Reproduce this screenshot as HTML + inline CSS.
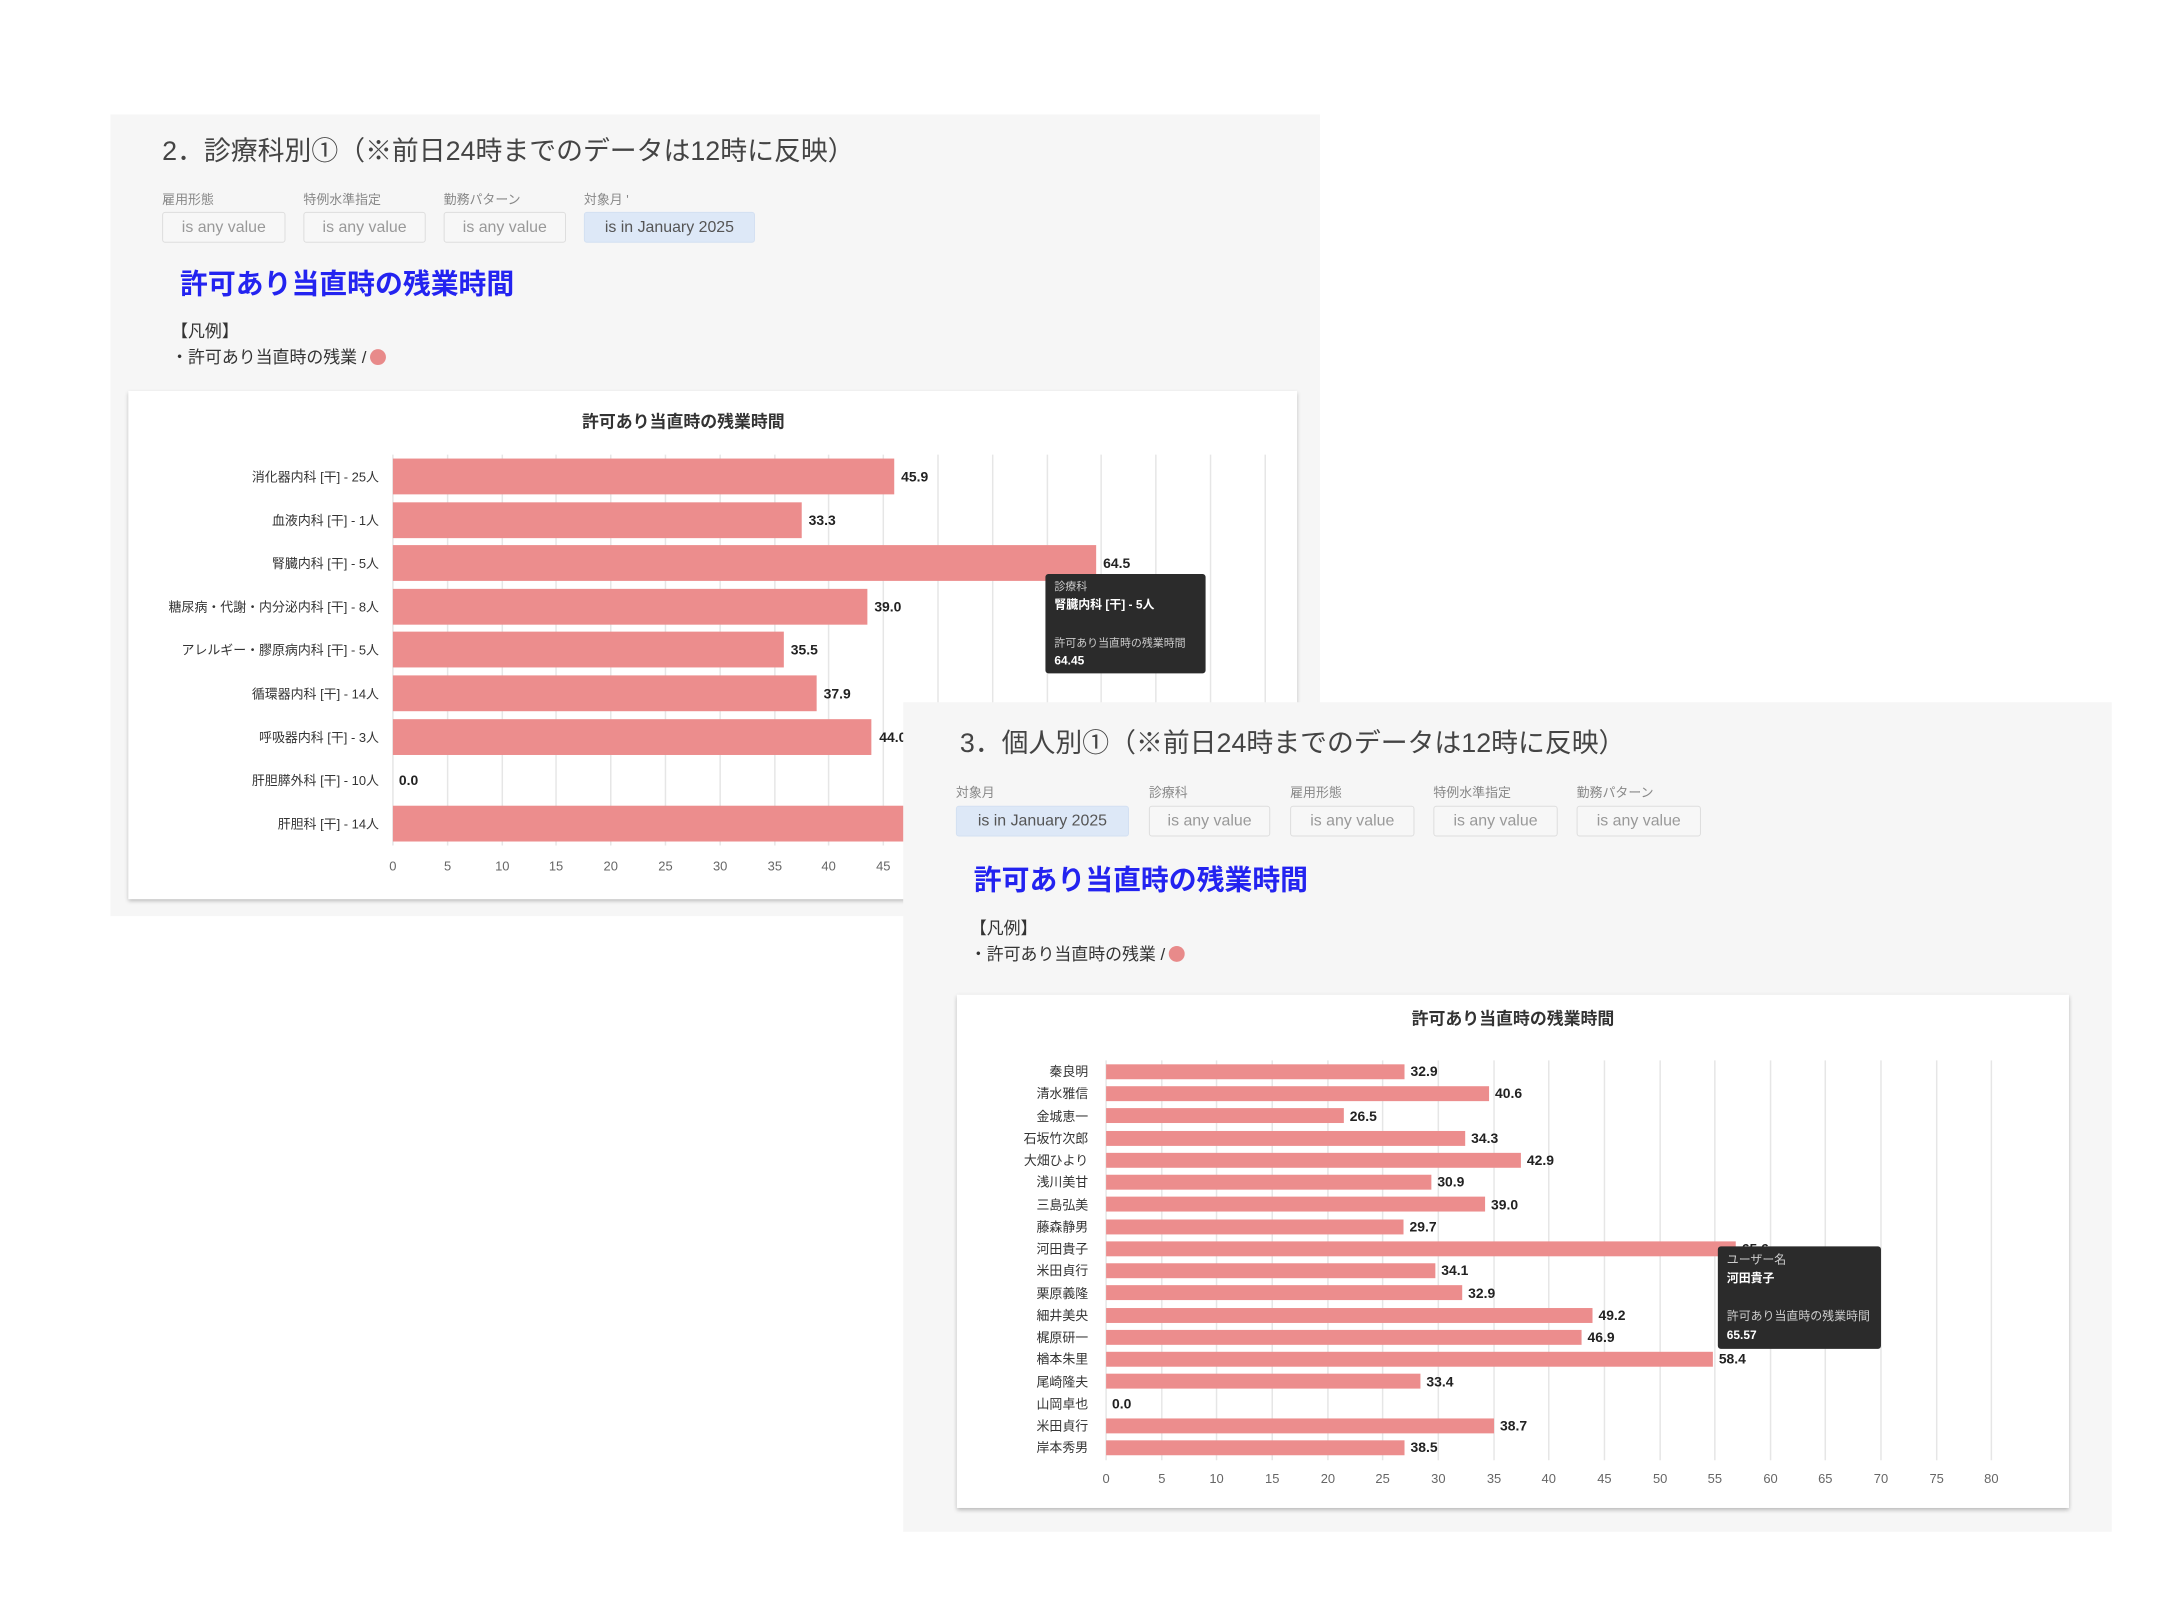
<!DOCTYPE html>
<html><head><meta charset="utf-8"><style>
body{margin:0;width:2160px;height:1620px;background:#fff;position:relative;overflow:hidden;font-family:"Liberation Sans","Noto Sans CJK JP",sans-serif;}
#w{position:absolute;left:0;top:0;width:2160px;height:1620px;transform:scale(0.9947);transform-origin:0 0;}
.panel{position:absolute;background:#f6f6f6;}
.abs{position:absolute;white-space:nowrap;}
.h1{font-size:27px;color:#444;}
.fl{font-size:13px;color:#888;}
.fb{position:absolute;border:1px solid #ddd;background:#f7f7f7;color:#999;font-size:16px;box-sizing:border-box;text-align:center;line-height:30px;border-radius:3px;}
.fb.on{background:#dde8f7;border-color:#d3e0f2;color:#555;}
.blue{font-size:28px;font-weight:bold;color:#2323f0;}
.lg{font-size:17px;color:#333;}
.dot{display:inline-block;width:16px;height:16px;border-radius:50%;background:#e88a8a;vertical-align:-2px;margin-left:4px;}
.card{position:absolute;background:#fff;box-shadow:0 2px 4px rgba(0,0,0,.25);}
svg text{font-family:"Liberation Sans","Noto Sans CJK JP",sans-serif;}
</style></head><body><div id="w">

<div class="panel" style="left:111px;top:115px;width:1216px;height:806px;"></div>
<div class="abs h1" style="left:163px;top:130px;">2．診療科別①（※前日24時までのデータは12時に反映）</div>
<div class="abs fl" style="left:163px;top:190px;">雇用形態</div>
<div class="abs fl" style="left:305px;top:190px;">特例水準指定</div>
<div class="abs fl" style="left:446px;top:190px;">勤務パターン</div>
<div class="abs fl" style="left:587px;top:190px;">対象月 '</div>
<div class="fb" style="left:163px;top:213px;width:124px;height:31px;">is any value</div>
<div class="fb" style="left:305px;top:213px;width:123px;height:31px;">is any value</div>
<div class="fb" style="left:446px;top:213px;width:123px;height:31px;">is any value</div>
<div class="fb on" style="left:587px;top:213px;width:172px;height:31px;">is in January 2025</div>
<div class="abs blue" style="left:181px;top:264px;">許可あり当直時の残業時間</div>
<div class="abs lg" style="left:172px;top:319px;">【凡例】</div>
<div class="abs lg" style="left:172px;top:345px;">・許可あり当直時の残業 /<span class="dot"></span></div>
<div class="card" style="left:129px;top:393px;width:1175px;height:511px;"></div>

<svg class="abs" style="left:0;top:0" width="2160" height="1620">
<text x="687" y="430" font-size="17" font-weight="bold" fill="#333" text-anchor="middle">許可あり当直時の残業時間</text>
<g stroke="#e6e6e6" stroke-width="1.5">
<line x1="395" y1="457" x2="395" y2="850"/><line x1="450" y1="457" x2="450" y2="850"/><line x1="505" y1="457" x2="505" y2="850"/><line x1="559" y1="457" x2="559" y2="850"/><line x1="614" y1="457" x2="614" y2="850"/><line x1="669" y1="457" x2="669" y2="850"/><line x1="724" y1="457" x2="724" y2="850"/><line x1="779" y1="457" x2="779" y2="850"/><line x1="833" y1="457" x2="833" y2="850"/><line x1="888" y1="457" x2="888" y2="850"/><line x1="943" y1="457" x2="943" y2="850"/><line x1="998" y1="457" x2="998" y2="850"/><line x1="1053" y1="457" x2="1053" y2="850"/><line x1="1107" y1="457" x2="1107" y2="850"/><line x1="1162" y1="457" x2="1162" y2="850"/><line x1="1217" y1="457" x2="1217" y2="850"/><line x1="1272" y1="457" x2="1272" y2="850"/>
</g>
<g fill="#ec8d8d">
<rect x="395" y="461" width="504" height="36"/><rect x="395" y="505" width="411" height="36"/><rect x="395" y="548" width="707" height="36"/><rect x="395" y="592" width="477" height="36"/><rect x="395" y="635" width="393" height="36"/><rect x="395" y="679" width="426" height="36"/><rect x="395" y="723" width="481" height="36"/><rect x="395" y="810" width="620" height="36"/>
</g>
<g font-size="14" font-weight="bold" fill="#222">
<text x="906" y="484">45.9</text><text x="813" y="528">33.3</text><text x="1109" y="571">64.5</text><text x="879" y="615">39.0</text><text x="795" y="658">35.5</text><text x="828" y="702">37.9</text><text x="884" y="746">44.0</text><text x="401" y="789">0.0</text>
</g>
<g font-size="13" fill="#333" text-anchor="end">
<text x="381" y="484">消化器内科 [干] - 25人</text><text x="381" y="528">血液内科 [干] - 1人</text><text x="381" y="571">腎臓内科 [干] - 5人</text><text x="381" y="615">糖尿病・代謝・内分泌内科 [干] - 8人</text><text x="381" y="658">アレルギー・膠原病内科 [干] - 5人</text><text x="381" y="702">循環器内科 [干] - 14人</text><text x="381" y="746">呼吸器内科 [干] - 3人</text><text x="381" y="789">肝胆膵外科 [干] - 10人</text><text x="381" y="833">肝胆科 [干] - 14人</text>
</g>
<g font-size="13" fill="#666" text-anchor="middle">
<text x="395" y="875">0</text><text x="450" y="875">5</text><text x="505" y="875">10</text><text x="559" y="875">15</text><text x="614" y="875">20</text><text x="669" y="875">25</text><text x="724" y="875">30</text><text x="779" y="875">35</text><text x="833" y="875">40</text><text x="888" y="875">45</text>
</g>
<rect x="1051" y="577" width="161" height="100" rx="3" fill="#2b2b2b"/>
<g font-size="11" fill="#ccc"><text x="1060" y="593">診療科</text><text x="1060" y="650">許可あり当直時の残業時間</text></g>
<g font-size="12" font-weight="bold" fill="#fff"><text x="1060" y="612">腎臓内科 [干] - 5人</text><text x="1060" y="668">64.45</text></g>
</svg>

<div class="panel" style="left:908px;top:706px;width:1215px;height:834px;"></div>
<div class="abs h1" style="left:965px;top:725px;">3．個人別①（※前日24時までのデータは12時に反映）</div>
<div class="abs fl" style="left:961px;top:786px;">対象月</div>
<div class="abs fl" style="left:1155px;top:786px;">診療科</div>
<div class="abs fl" style="left:1297px;top:786px;">雇用形態</div>
<div class="abs fl" style="left:1441px;top:786px;">特例水準指定</div>
<div class="abs fl" style="left:1585px;top:786px;">勤務パターン</div>
<div class="fb on" style="left:961px;top:810px;width:174px;height:31px;">is in January 2025</div>
<div class="fb" style="left:1155px;top:810px;width:122px;height:31px;">is any value</div>
<div class="fb" style="left:1297px;top:810px;width:125px;height:31px;">is any value</div>
<div class="fb" style="left:1441px;top:810px;width:125px;height:31px;">is any value</div>
<div class="fb" style="left:1585px;top:810px;width:125px;height:31px;">is any value</div>
<div class="abs blue" style="left:979px;top:863px;">許可あり当直時の残業時間</div>
<div class="abs lg" style="left:975px;top:919px;">【凡例】</div>
<div class="abs lg" style="left:975px;top:945px;">・許可あり当直時の残業 /<span class="dot"></span></div>
<div class="card" style="left:962px;top:1000px;width:1118px;height:516px;"></div>

<svg class="abs" style="left:0;top:0" width="2160" height="1620">
<text x="1521" y="1030" font-size="17" font-weight="bold" fill="#333" text-anchor="middle">許可あり当直時の残業時間</text>
<g stroke="#e6e6e6" stroke-width="1.5">
<line x1="1112" y1="1066" x2="1112" y2="1468"/><line x1="1168" y1="1066" x2="1168" y2="1468"/><line x1="1223" y1="1066" x2="1223" y2="1468"/><line x1="1279" y1="1066" x2="1279" y2="1468"/><line x1="1335" y1="1066" x2="1335" y2="1468"/><line x1="1390" y1="1066" x2="1390" y2="1468"/><line x1="1446" y1="1066" x2="1446" y2="1468"/><line x1="1502" y1="1066" x2="1502" y2="1468"/><line x1="1557" y1="1066" x2="1557" y2="1468"/><line x1="1613" y1="1066" x2="1613" y2="1468"/><line x1="1669" y1="1066" x2="1669" y2="1468"/><line x1="1724" y1="1066" x2="1724" y2="1468"/><line x1="1780" y1="1066" x2="1780" y2="1468"/><line x1="1835" y1="1066" x2="1835" y2="1468"/><line x1="1891" y1="1066" x2="1891" y2="1468"/><line x1="1947" y1="1066" x2="1947" y2="1468"/><line x1="2002" y1="1066" x2="2002" y2="1468"/>
</g>
<g fill="#ec8d8d">
<rect x="1112" y="1070" width="300" height="15"/><rect x="1112" y="1092" width="385" height="15"/><rect x="1112" y="1114" width="239" height="15"/><rect x="1112" y="1137" width="361" height="15"/><rect x="1112" y="1159" width="417" height="15"/><rect x="1112" y="1181" width="327" height="15"/><rect x="1112" y="1203" width="381" height="15"/><rect x="1112" y="1226" width="299" height="15"/><rect x="1112" y="1248" width="633" height="15"/><rect x="1112" y="1270" width="331" height="15"/><rect x="1112" y="1292" width="358" height="15"/><rect x="1112" y="1315" width="489" height="15"/><rect x="1112" y="1337" width="478" height="15"/><rect x="1112" y="1359" width="610" height="15"/><rect x="1112" y="1381" width="316" height="15"/><rect x="1112" y="1426" width="390" height="15"/><rect x="1112" y="1448" width="300" height="15"/>
</g>
<g font-size="14" font-weight="bold" fill="#222">
<text x="1418" y="1082">32.9</text><text x="1503" y="1104">40.6</text><text x="1357" y="1127">26.5</text><text x="1479" y="1149">34.3</text><text x="1535" y="1171">42.9</text><text x="1445" y="1193">30.9</text><text x="1499" y="1216">39.0</text><text x="1417" y="1238">29.7</text><text x="1751" y="1260">65.6</text><text x="1449" y="1282">34.1</text><text x="1476" y="1305">32.9</text><text x="1607" y="1327">49.2</text><text x="1596" y="1349">46.9</text><text x="1728" y="1371">58.4</text><text x="1434" y="1394">33.4</text><text x="1118" y="1416">0.0</text><text x="1508" y="1438">38.7</text><text x="1418" y="1460">38.5</text>
</g>
<g font-size="13" fill="#333" text-anchor="end">
<text x="1094" y="1082">秦良明</text><text x="1094" y="1104">清水雅信</text><text x="1094" y="1127">金城恵一</text><text x="1094" y="1149">石坂竹次郎</text><text x="1094" y="1171">大畑ひより</text><text x="1094" y="1193">浅川美甘</text><text x="1094" y="1216">三島弘美</text><text x="1094" y="1238">藤森静男</text><text x="1094" y="1260">河田貴子</text><text x="1094" y="1282">米田貞行</text><text x="1094" y="1305">栗原義隆</text><text x="1094" y="1327">細井美央</text><text x="1094" y="1349">梶原研一</text><text x="1094" y="1371">楢本朱里</text><text x="1094" y="1394">尾崎隆夫</text><text x="1094" y="1416">山岡卓也</text><text x="1094" y="1438">米田貞行</text><text x="1094" y="1460">岸本秀男</text>
</g>
<g font-size="13" fill="#666" text-anchor="middle">
<text x="1112" y="1491">0</text><text x="1168" y="1491">5</text><text x="1223" y="1491">10</text><text x="1279" y="1491">15</text><text x="1335" y="1491">20</text><text x="1390" y="1491">25</text><text x="1446" y="1491">30</text><text x="1502" y="1491">35</text><text x="1557" y="1491">40</text><text x="1613" y="1491">45</text><text x="1669" y="1491">50</text><text x="1724" y="1491">55</text><text x="1780" y="1491">60</text><text x="1835" y="1491">65</text><text x="1891" y="1491">70</text><text x="1947" y="1491">75</text><text x="2002" y="1491">80</text>
</g>
<rect x="1727" y="1253" width="164" height="103" rx="3" fill="#2b2b2b"/>
<g font-size="12" fill="#ccc"><text x="1736" y="1270">ユーザー名</text><text x="1736" y="1327">許可あり当直時の残業時間</text></g>
<g font-size="12" font-weight="bold" fill="#fff"><text x="1736" y="1289">河田貴子</text><text x="1736" y="1346">65.57</text></g>
</svg>
</div></body></html>
